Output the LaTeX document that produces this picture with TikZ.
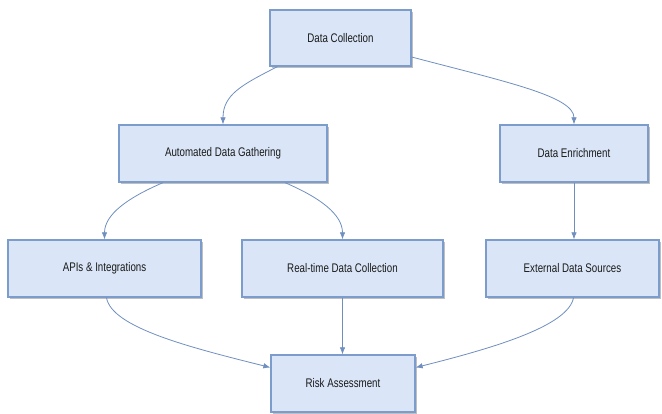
\documentclass[tikz,border=0pt]{standalone}
\usepackage{fontspec}
\setmainfont{Liberation Sans}
\newfontfamily\boxfont[FakeStretch=0.78]{Liberation Sans}
\usetikzlibrary{arrows.meta,shadows,calc}
\definecolor{boxfill}{HTML}{DAE6F7}
\definecolor{boxline}{HTML}{7C9CCB}
\definecolor{edgecol}{HTML}{6F8FC0}
\definecolor{txtcol}{HTML}{1A1A1A}
\tikzset{
  procbox/.style={rectangle, draw=boxline, fill=boxfill, line width=1.3pt,
    inner sep=0pt, text=txtcol, font=\boxfont\fontsize{12.5}{14}\selectfont,
    drop shadow={shadow xshift=2pt, shadow yshift=-2pt, opacity=0.25, fill=black}},
  conn/.style={draw=edgecol, line width=0.8pt,
    -{Latex[length=7pt,width=5.5pt]}}
}
\begin{document}
\begin{tikzpicture}[x=1pt,y=-1pt]
\useasboundingbox (0,0) rectangle (662,414);
\node[procbox, minimum width=141pt, minimum height=56pt] (dc)  at (340.5,38)   {Data Collection};
\node[procbox, minimum width=208pt, minimum height=57pt] (adg) at (223,153.5)  {Automated Data Gathering};
\node[procbox, minimum width=148pt, minimum height=57pt] (de)  at (574,153.5)  {Data Enrichment};
\node[procbox, minimum width=193pt, minimum height=57pt] (api) at (104.5,268.5){APIs \& Integrations};
\node[procbox, minimum width=201pt, minimum height=57pt] (rt)  at (342.5,268.5){Real-time Data Collection};
\node[procbox, minimum width=173pt, minimum height=57pt] (ext) at (572.5,268.5)  {External Data Sources};
\node[procbox, minimum width=144pt, minimum height=57pt] (ra)  at (343,383.5)  {Risk Assessment};

\draw[conn] ([xshift=8pt]dc.south west) .. controls +(-35,18) and +(0,-30) .. (adg.north);
\draw[conn] ([yshift=-19pt]dc.east) .. controls +(95,25) and +(0,-28) .. (de.north);
\draw[conn] ([xshift=-60pt]adg.south) .. controls +(-35,15) and +(0,-25) .. (api.north);
\draw[conn] ([xshift=62pt]adg.south) .. controls +(35,15) and +(0,-25) .. (rt.north);
\draw[conn] (de.south) -- (de.south |- ext.north);
\draw[conn] ([xshift=2pt]api.south) .. controls +(5,30) and +(-80,-20) .. ([yshift=16pt]ra.west);
\draw[conn] (rt.south) -- (rt.south |- ra.north);
\draw[conn] ([xshift=1pt]ext.south) .. controls +(-5,28) and +(80,-20) .. ([yshift=16pt]ra.east);
\end{tikzpicture}
\end{document}
